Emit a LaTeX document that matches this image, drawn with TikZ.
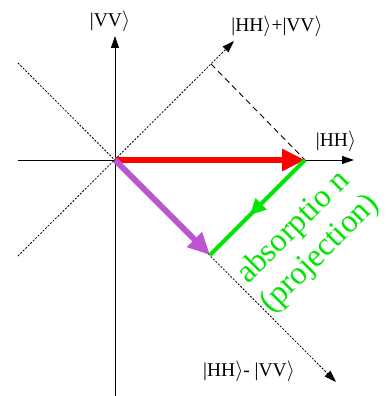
\documentclass[tikz,border=0pt]{standalone}
\usepackage{fontspec}
\setmainfont{Liberation Serif}
\usetikzlibrary{arrows.meta,decorations.markings}
\definecolor{absgreen}{RGB}{0,230,0}
\definecolor{purp}{RGB}{187,85,211}
\begin{document}
\begin{tikzpicture}[x=1pt,y=-1pt,
  axis/.style={line width=1pt,-{Triangle[length=12pt,width=8pt]}},
  dotln/.style={line width=0.8pt,dash pattern=on 2pt off 1.5pt},
  dashln/.style={line width=0.9pt,dash pattern=on 6pt off 4pt},
  lab/.style={inner sep=0pt,font=\fontsize{19.5}{21}\selectfont},
  gtxt/.style={inner sep=0pt,text=absgreen,align=center,font=\fontsize{32.5}{37}\selectfont}]
\useasboundingbox (0,0) rectangle (391,396);
\coordinate (O) at (115,160);
\coordinate (Vtop) at (115,36);
\coordinate (Vbot) at (115,396);
\coordinate (Hleft) at (18,160);
\coordinate (Htip) at (354,160);
\coordinate (Dll) at (18,256);
\coordinate (Dtip) at (234,41);
\coordinate (Aul) at (18,63);
\coordinate (Atip) at (336,382);
\coordinate (P) at (211,64);
\coordinate (H) at (305,160);
\coordinate (M) at (210,255);
% axes
\draw[axis] (Vbot) -- (Vtop);
\draw[axis] (Hleft) -- (Htip);
% diagonals
\draw[dotln,-{Triangle[length=12pt,width=8pt]}] (Dll) -- (Dtip);
\draw[dotln,-{Triangle[length=12pt,width=8pt]}] (Aul) -- (Atip);
\draw[dashln] (P) -- (H);
% vectors
\draw[red,line width=6pt,-{Triangle[length=23pt,width=21pt]}] (O) -- (H);
\draw[purp,line width=6pt,-{Triangle[length=22pt,width=20pt]}] (O) -- (M);
\draw[absgreen,line width=4pt,
  postaction={decorate},
  decoration={markings,mark=at position 0.58 with {\arrow{Triangle[length=16pt,width=15pt]}}}]
  (H) -- (M);
% labels
\node[lab] (lV) at (110,21) {|VV$\rangle$};
\node[lab] (lD) at (277,26) {|HH$\rangle$+|VV$\rangle$};
\node[lab] (lH) at (336,141) {|HH$\rangle$};
\node[lab] (lA) at (249,371) {|HH$\rangle$- |VV$\rangle$};
\node[gtxt,rotate=45] (abs) at (307,241) {absorptio n\\(projection)};
\end{tikzpicture}
\end{document}
